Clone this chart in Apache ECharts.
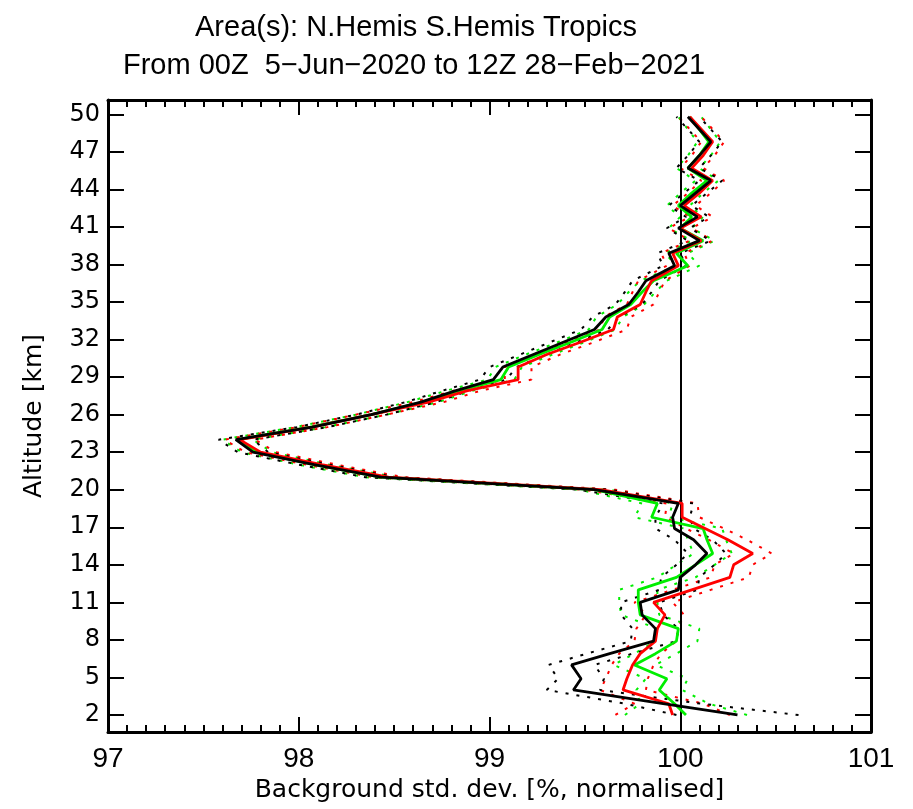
<!DOCTYPE html>
<html>
<head>
<meta charset="utf-8">
<title>Background std. dev.</title>
<script src="https://cdn.jsdelivr.net/npm/echarts@6/dist/echarts.min.js"></script>
<style>
  html, body { margin: 0; padding: 0; background: #fff; }
  #chart { width: 913px; height: 809px; }
</style>
</head>
<body>
<div id="chart"></div>
<script>
  // altitude levels (km)
  const levels = [2.0, 2.9, 4.0, 4.9, 6.0, 6.9, 7.9, 8.9, 10.0, 11.0, 12.0, 13.0, 14.0, 14.9, 16.0, 16.9, 17.8, 18.9,
    20.0, 21.0, 22.0, 23.0, 24.0, 25.0, 26.0, 27.0, 27.9, 28.8, 29.8, 30.8, 31.8, 32.8, 33.8, 34.8, 35.8, 36.7,
    37.9, 38.9, 39.9, 40.9, 41.8, 42.7, 43.7, 44.7, 45.7, 46.7, 47.8, 48.8, 49.8];

  // mean profiles (% normalised)
  const blackVals = [100.30, 99.91, 99.44, 99.48, 99.43, 99.63, 99.86, 99.87, 99.80, 99.79, 99.99, 100.00, 100.08, 100.14, 100.07, 99.97, 99.96, 99.99,
    99.55, 98.43, 98.08, 97.76, 97.67, 98.07, 98.38, 98.64, 98.82, 99.02, 99.07, 99.23, 99.39, 99.55, 99.61, 99.73, 99.78, 99.82,
    99.97, 99.94, 100.10, 99.99, 100.09, 100.00, 100.08, 100.16, 100.04, 100.10, 100.16, 100.10, 100.04];
  const redVals = [99.96, 99.94, 99.70, 99.72, 99.75, 99.79, 99.87, 99.88, 99.92, 99.86, 100.06, 100.26, 100.28, 100.38, 100.25, 100.13, 100.01, 100.01,
    99.58, 98.47, 98.12, 97.80, 97.69, 98.07, 98.38, 98.68, 98.88, 99.15, 99.15, 99.30, 99.48, 99.65, 99.67, 99.79, 99.82, 99.85,
    99.99, 99.96, 100.11, 100.00, 100.11, 100.02, 100.10, 100.17, 100.06, 100.12, 100.17, 100.11, 100.05];
  const greenVals = [100.03, 99.97, 99.89, 99.93, 99.76, 99.87, 99.98, 99.99, 99.79, 99.78, 99.78, 99.98, 100.08, 100.17, 100.14, 100.12, 99.85, 99.88,
    99.55, 98.43, 98.08, 97.78, 97.68, 98.06, 98.38, 98.65, 98.84, 99.06, 99.10, 99.26, 99.43, 99.59, 99.63, 99.74, 99.80, 99.86,
    100.04, 99.98, 100.12, 100.00, 100.06, 99.99, 100.06, 100.14, 100.04, 100.10, 100.15, 100.10, 100.05];

  // half-width of the dotted bands
  const blackSpread = [0.32, 0.20, 0.14, 0.12, 0.12, 0.12, 0.12, 0.12, 0.11, 0.10, 0.10, 0.10, 0.10, 0.10, 0.10, 0.10, 0.09, 0.08,
    0.08, 0.08, 0.08, 0.08, 0.09, 0.08, 0.08, 0.08, 0.07, 0.07, 0.07, 0.07, 0.07, 0.07, 0.07, 0.07, 0.07, 0.07,
    0.06, 0.06, 0.06, 0.06, 0.06, 0.06, 0.06, 0.06, 0.06, 0.06, 0.06, 0.06, 0.06];
  const redSpread = [0.30, 0.18, 0.12, 0.11, 0.11, 0.11, 0.11, 0.11, 0.10, 0.10, 0.10, 0.10, 0.10, 0.10, 0.10, 0.10, 0.09, 0.08,
    0.08, 0.08, 0.08, 0.08, 0.08, 0.08, 0.08, 0.08, 0.07, 0.07, 0.07, 0.07, 0.07, 0.07, 0.07, 0.07, 0.07, 0.07,
    0.06, 0.06, 0.06, 0.06, 0.06, 0.06, 0.06, 0.06, 0.06, 0.06, 0.06, 0.06, 0.06];
  const greenSpread = [0.32, 0.18, 0.12, 0.11, 0.11, 0.11, 0.11, 0.11, 0.10, 0.10, 0.10, 0.10, 0.10, 0.10, 0.10, 0.10, 0.09, 0.08,
    0.08, 0.08, 0.08, 0.08, 0.08, 0.08, 0.08, 0.08, 0.07, 0.07, 0.07, 0.07, 0.07, 0.07, 0.07, 0.07, 0.07, 0.07,
    0.06, 0.06, 0.06, 0.06, 0.06, 0.06, 0.06, 0.06, 0.06, 0.06, 0.06, 0.06, 0.06];

  const yTicks = [2, 5, 8, 11, 14, 17, 20, 23, 26, 29, 32, 35, 38, 41, 44, 47, 50];

  const FONT = 'Liberation Sans, Arial, sans-serif';
  const WIDE = 'DejaVu Sans, sans-serif';

  function pairs(vals, spread, sign) {
    return levels.map((a, i) => [vals[i] + sign * (spread ? spread[i] : 0), a]);
  }

  function solid(name, color, vals, z) {
    return {
      name: name, type: 'line', xAxisIndex: 0, yAxisIndex: 0,
      data: pairs(vals, null, 0), showSymbol: false, symbol: 'none',
      lineStyle: { color: color, width: 2.8 }, z: z, silent: true, animation: false
    };
  }
  function dotted(name, color, vals, spread, sign, z) {
    return {
      name: name, type: 'line', xAxisIndex: 0, yAxisIndex: 0,
      data: pairs(vals, spread, sign), showSymbol: false, symbol: 'none',
      lineStyle: { color: color, width: 2, type: [3, 8] }, z: z, silent: true, animation: false
    };
  }

  const myChart = echarts.init(document.getElementById('chart'), null, { renderer: 'canvas' });

  const yMin = 0.64, yMax = 51.14;

  const option = {
    backgroundColor: '#fff',
    animation: false,
    textStyle: { fontFamily: FONT },
    title: [
      { text: 'Area(s): N.Hemis S.Hemis Tropics', left: 190, top: 8,
        textStyle: { fontFamily: FONT, fontSize: 29, fontWeight: 'normal', color: '#000' } },
      { text: 'From 00Z  5\u2212Jun\u22122020 to 12Z 28\u2212Feb\u22122021', left: 118, top: 46,
        textStyle: { fontFamily: FONT, fontSize: 29, fontWeight: 'normal', color: '#000' } }
    ],
    grid: { left: 108, right: 42, top: 100, bottom: 77, containLabel: false },
    xAxis: [{
      type: 'value', min: 97, max: 101, interval: 1, position: 'bottom',
      name: 'Background std. dev. [%, normalised]', nameLocation: 'middle', nameGap: 45,
      nameTextStyle: { fontFamily: WIDE, fontSize: 25, color: '#000' },
      axisLine: { show: true, onZero: false, lineStyle: { color: '#000', width: 3 } },
      axisTick: { show: true, inside: true, length: 15, lineStyle: { color: '#000', width: 2 } },
      minorTick: { show: true, splitNumber: 10, length: 7, lineStyle: { color: '#000', width: 2 } },
      axisLabel: { margin: 13, fontFamily: FONT, fontSize: 28, color: '#000' },
      splitLine: { show: false }
    }, {
      type: 'value', min: 97, max: 101, interval: 1, position: 'top',
      axisLine: { show: true, onZero: false, lineStyle: { color: '#000', width: 3 } },
      axisTick: { show: true, inside: true, length: 15, lineStyle: { color: '#000', width: 2 } },
      minorTick: { show: true, splitNumber: 10, length: 7, lineStyle: { color: '#000', width: 2 } },
      axisLabel: { show: false },
      splitLine: { show: false }
    }],
    yAxis: [{
      type: 'value', min: yMin, max: yMax, position: 'left',
      name: 'Altitude [km]', nameLocation: 'middle', nameGap: 61, nameRotate: 90,
      nameTextStyle: { fontFamily: WIDE, fontSize: 25, color: '#000' },
      axisLine: { show: true, onZero: false, lineStyle: { color: '#000', width: 3 } },
      axisTick: { show: true, inside: true, length: 16, customValues: yTicks, lineStyle: { color: '#000', width: 2 } },
      axisLabel: { margin: 8, customValues: yTicks, fontFamily: WIDE, fontSize: 24, color: '#000' },
      splitLine: { show: false }
    }, {
      type: 'value', min: yMin, max: yMax, position: 'right',
      axisLine: { show: true, onZero: false, lineStyle: { color: '#000', width: 3 } },
      axisTick: { show: true, inside: true, length: 16, customValues: yTicks, lineStyle: { color: '#000', width: 2 } },
      axisLabel: { show: false },
      splitLine: { show: false }
    }],
    series: [
      dotted('green lo', '#00ee00', greenVals, greenSpread, -1, 2),
      dotted('green hi', '#00ee00', greenVals, greenSpread, 1, 2),
      dotted('red lo', '#ff0000', redVals, redSpread, -1, 3),
      dotted('red hi', '#ff0000', redVals, redSpread, 1, 3),
      dotted('black lo', '#000', blackVals, blackSpread, -1, 4),
      dotted('black hi', '#000', blackVals, blackSpread, 1, 4),
      solid('green', '#00ee00', greenVals, 5),
      solid('red', '#ff0000', redVals, 6),
      Object.assign(solid('black', '#000', blackVals, 7), {
        markLine: {
          silent: true, symbol: 'none', label: { show: false },
          lineStyle: { color: '#000', width: 2, type: 'solid' },
          data: [{ xAxis: 100 }]
        }
      })
    ]
  };

  myChart.setOption(option, true);
  window.addEventListener('resize', function () {
    myChart.resize();
  });
</script>
</body>
</html>
